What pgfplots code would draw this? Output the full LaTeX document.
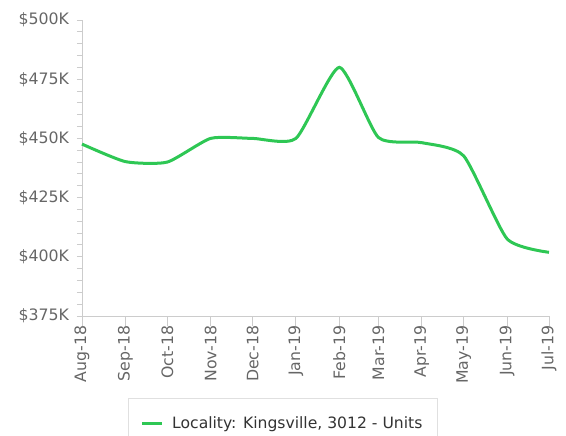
\documentclass[border=0pt]{standalone}
\usepackage{pgfplots}
\pgfplotsset{compat=1.18}
\usepackage{fontspec}
\setmainfont{DejaVu Sans}
\definecolor{linegreen}{RGB}{46,199,84}
\definecolor{axisgray}{RGB}{204,204,204}
\definecolor{labelgray}{RGB}{102,102,102}
\definecolor{legendtext}{RGB}{51,51,51}
% months as day offsets from 1 Aug 2018, values in $K
\pgfplotstableread{
day value
0   447.6
31  440.2
61  440.0
92  450.0
122 450.0
153 450.0
184 480.0
212 450.4
243 448.2
273 442.6
304 407.6
334 401.9
}\kingsville
\begin{document}
\begin{tikzpicture}
\begin{axis}[
    scale only axis,
    width=350.25pt, height=222pt,
    xmin=0, xmax=334, ymin=375, ymax=500,
    axis lines=left,
    axis line style={-, axisgray, line width=0.7pt},
    xtick={0,31,61,92,122,153,184,212,243,273,304,334},
    xticklabels={Aug-18,Sep-18,Oct-18,Nov-18,Dec-18,Jan-19,Feb-19,Mar-19,Apr-19,May-19,Jun-19,Jul-19},
    ytick={375,400,425,450,475,500},
    yticklabels={\$375K,\$400K,\$425K,\$450K,\$475K,\$500K},
    minor y tick num=4,
    tick align=outside,
    major tick length=3.75pt, minor tick length=3.75pt,
    xtick style={/pgfplots/major tick length=7.5pt},
    tick style={axisgray, line width=0.7pt},
    x tick label style={rotate=90, anchor=east, font=\fontsize{11.8}{14}\selectfont, text=labelgray},
    y tick label style={xshift=-2.5pt, font=\fontsize{11.8}{14}\selectfont, text=labelgray},
    legend style={at={(0.430,-0.277)}, anchor=north, draw=black!12,
        font=\fontsize{11.7}{14}\selectfont, text=legendtext,
        inner xsep=9pt, inner ysep=12pt, legend cell align=left},
    legend image code/.code={\draw[#1] (0pt,0pt) -- (15pt,0pt); \path (19.5pt,0pt);},
    clip=false,
]
\addplot[linegreen, line width=2.25pt, smooth, tension=0.35] table[x=day, y=value] {\kingsville};
\addlegendentry{Locality: Kingsville, 3012 - Units}
\coordinate (ll) at (rel axis cs:0,0);
\coordinate (ur) at (rel axis cs:1,1);
\end{axis}
\pgfresetboundingbox
\path[use as bounding box] ([xshift=-61.5pt,yshift=-89.25pt]ll) rectangle ([xshift=12.75pt,yshift=15pt]ur);
\end{tikzpicture}
\end{document}
